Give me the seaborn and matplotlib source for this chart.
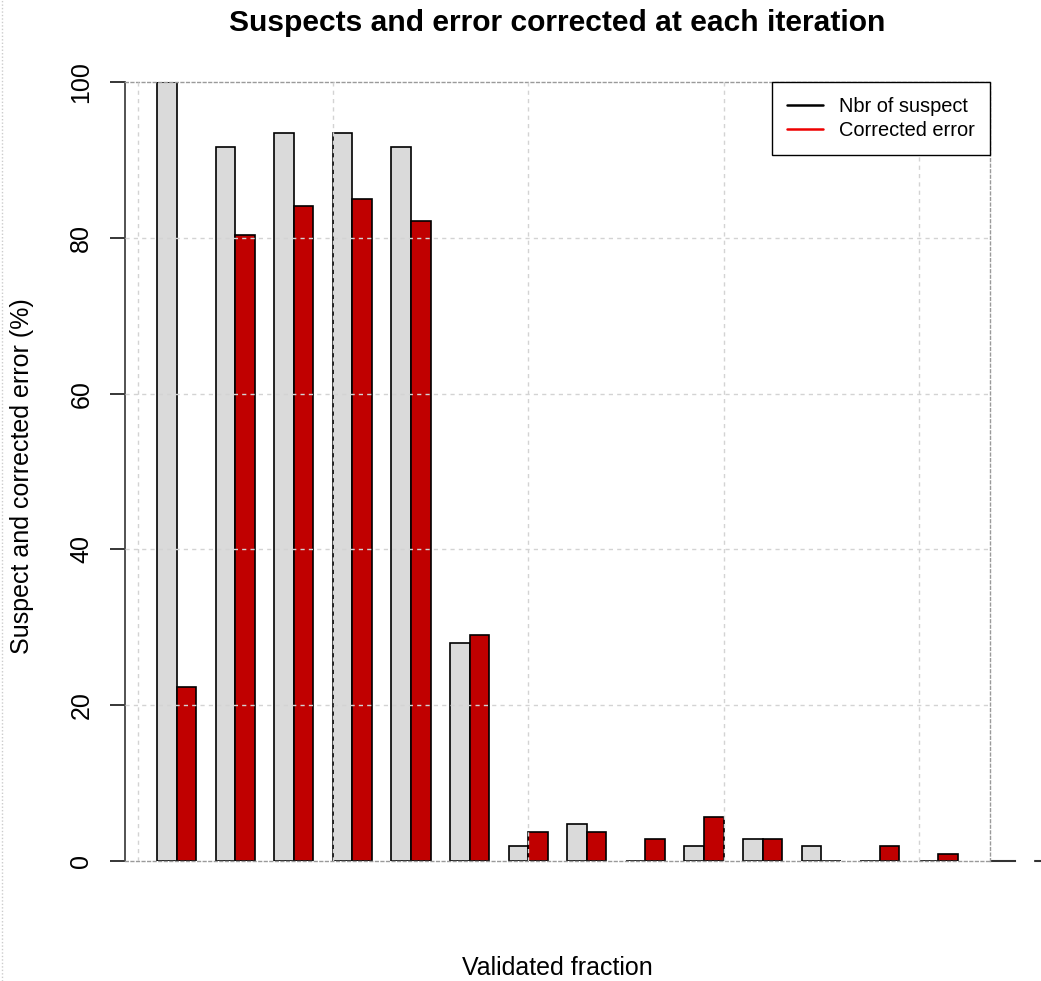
import numpy as np
import pandas as pd
import matplotlib
matplotlib.use("Agg")
import matplotlib.pyplot as plt
from matplotlib.lines import Line2D
import seaborn as sns

# Share (%) of the 107 flagged records at each validation iteration
iterations = [str(i) for i in range(1, 15)]
suspect_pct = [100.0, 91.6, 93.5, 93.5, 91.6, 28.0, 1.9, 4.7, 0.0, 1.9, 2.8, 1.9, 0.0, 0.0]
corrected_pct = [22.4, 80.4, 84.1, 85.0, 82.2, 29.0, 3.7, 3.7, 2.8, 5.6, 2.8, 0.0, 1.9, 0.9]
series_names = ["Nbr of suspect", "Corrected error"]
y_ticks = [0, 20, 40, 60, 80, 100]

df = pd.DataFrame({
    "iteration": iterations * 2,
    "value": suspect_pct + corrected_pct,
    "series": [series_names[0]] * len(iterations) + [series_names[1]] * len(iterations),
})

sns.set_style("white")
plt.rcParams["font.family"] = ["Liberation Sans", "DejaVu Sans"]
plt.rcParams["text.color"] = "black"
plt.rcParams["axes.labelcolor"] = "black"
plt.rcParams["ytick.color"] = "black"
plt.rcParams["xtick.color"] = "black"

W, H = 1041, 981
fig = plt.figure(figsize=(W / 100, H / 100), dpi=100)
ax = fig.add_axes([125 / W, 1 - 861 / H, 865 / W, 779 / H])

bar_gray = "#dadada"
bar_red = "#c00000"

sns.barplot(data=df, x="iteration", y="value", hue="series", hue_order=series_names,
            order=iterations, palette=[bar_gray, bar_red], width=2 / 3,
            edgecolor="black", linewidth=1.2, saturation=1, errorbar=None,
            legend=False, ax=ax)

ax.set_xlim(-0.88, 13.88)
ax.set_ylim(0, 100)

# dashed light-grey grid drawn over the bars
grid_style = dict(color="#d3d3d3", linestyle=(0, (3, 3)), linewidth=1.0, zorder=3)
for y in y_ticks[1:-1]:
    ax.axhline(y, **grid_style)
for r in np.arange(0, 41, 10):
    ax.axvline((r - 2) / 3, **grid_style)

ax.set_xticks([])
ax.set_xlabel("")
ax.set_ylabel("")
ax.set_yticks(y_ticks)
ax.set_yticklabels([str(v) for v in y_ticks], rotation=90, fontsize=18, color="black")
for lab in ax.get_yticklabels():
    lab.set_va("center")
ax.tick_params(axis="y", length=10.8, width=1.1, color="black", pad=12, left=True)

for side in ["top", "bottom", "right"]:
    ax.spines[side].set_color("#9a9a9a")
    ax.spines[side].set_linestyle((0, (2, 2)))
    ax.spines[side].set_linewidth(1.0)
ax.spines["left"].set_color("#444444")
ax.spines["left"].set_linestyle((0, (1.5, 1)))
ax.spines["left"].set_linewidth(1.3)

handles = [Line2D([], [], color="black", lw=1.8), Line2D([], [], color="#ee0000", lw=1.8)]
leg = ax.legend(handles, series_names, loc="upper right", bbox_to_anchor=(1, 1),
                borderaxespad=0, fontsize=14.4, handlelength=1.8, handletextpad=0.8,
                borderpad=0.75, labelspacing=0.25, fancybox=False, framealpha=1,
                edgecolor="black")
leg.get_frame().set_linewidth(1.0)
for t in leg.get_texts():
    t.set_color("black")

# short dashed baseline continuing past the plot region
ax.plot([1.0, 1.06], [0, 0], transform=ax.get_yaxis_transform(), color="#333333",
        lw=1.5, dashes=(12.5, 8.7), clip_on=False)

fig.text(557 / W, 1 - 23 / H, "Suspects and error corrected at each iteration",
         ha="center", va="center", fontsize=21.6, fontweight="bold", color="black")
fig.text(557 / W, 1 - 968 / H, "Validated fraction", ha="center", va="center",
         fontsize=18, color="black")
fig.text(22 / W, 1 - 476 / H, "Suspect and corrected error (%)", ha="center", va="center",
         rotation=90, fontsize=18, color="black")

fig.add_artist(Line2D([1.5 / W, 1.5 / W], [0, 1], color="#cccccc", lw=1,
                      linestyle=(0, (1, 1.5))))

fig.savefig("out.png", dpi=100)
